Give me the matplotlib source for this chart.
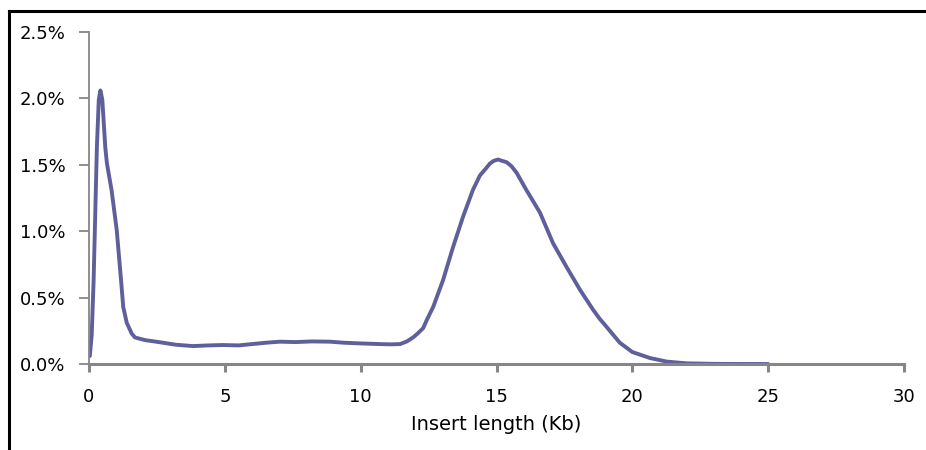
import matplotlib
matplotlib.use("Agg")
import matplotlib.pyplot as plt
from matplotlib.lines import Line2D
from matplotlib.ticker import FuncFormatter

# Insert length (Kb) and share of reads (%)
insert_kb = [0.03, 0.10, 0.17, 0.23, 0.29, 0.36, 0.42, 0.49, 0.60, 0.66, 0.83, 1.02,
             1.18, 1.26, 1.39, 1.57, 1.69, 2.06, 2.40, 2.73, 3.20, 3.83, 4.40, 4.93,
             5.50, 6.00, 6.50, 7.03, 7.60, 8.20, 8.87, 9.40, 10.00, 10.71, 11.10, 11.45,
             11.70, 11.93, 12.10, 12.30, 12.43, 12.67, 13.03, 13.40, 13.77, 14.13, 14.39,
             14.60, 14.76, 14.90, 15.06, 15.20, 15.37, 15.55, 15.74, 16.10, 16.60, 17.08,
             17.58, 18.07, 18.55, 18.80, 19.05, 19.54, 20.00, 20.65, 21.27, 22.00, 23.00,
             24.00, 25.00]
share_pct = [0.06, 0.22, 0.63, 1.13, 1.63, 1.99, 2.06, 1.99, 1.63, 1.51, 1.31, 1.01,
             0.63, 0.43, 0.31, 0.23, 0.20, 0.18, 0.17, 0.16, 0.145, 0.135, 0.14, 0.143,
             0.14, 0.15, 0.16, 0.168, 0.165, 0.17, 0.168, 0.16, 0.155, 0.15, 0.148, 0.15,
             0.17, 0.20, 0.23, 0.27, 0.33, 0.43, 0.63, 0.88, 1.11, 1.31, 1.42,
             1.47, 1.51, 1.53, 1.54, 1.53, 1.52, 1.49, 1.44, 1.31, 1.14, 0.91,
             0.73, 0.56, 0.41, 0.34, 0.28, 0.16, 0.09, 0.045, 0.018, 0.005, 0.001,
             0.0, 0.0]

x_ticks = [0, 5, 10, 15, 20, 25, 30]
y_ticks = [0.0, 0.5, 1.0, 1.5, 2.0, 2.5]
x_label = "Insert length (Kb)"

axis_grey = "#868686"
line_color = "#5F5F9B"

fig = plt.figure(figsize=(9.26, 4.5), dpi=100)
ax = fig.add_axes([89/926, 86/450, (904-89)/926, (364-32)/450])

ax.plot(insert_kb, share_pct, color=line_color, lw=2.8, solid_capstyle="round",
        solid_joinstyle="round")

ax.set_xlim(0, 30)
ax.set_ylim(0, 2.5)
ax.set_xticks(x_ticks)
ax.set_yticks(y_ticks)
ax.yaxis.set_major_formatter(FuncFormatter(lambda v, p: f"{v:.1f}%"))

for s in ["top", "right"]:
    ax.spines[s].set_visible(False)
ax.spines["left"].set_color(axis_grey)
ax.spines["left"].set_linewidth(1.3)
ax.spines["bottom"].set_color(axis_grey)
ax.spines["bottom"].set_linewidth(2.2)

ax.tick_params(axis="x", direction="out", length=6, width=2.2, color=axis_grey,
               pad=11, labelsize=13, labelcolor="black")
ax.tick_params(axis="y", direction="out", length=7, width=1.3, color=axis_grey,
               pad=10, labelsize=13, labelcolor="black")
ax.set_xlabel(x_label, fontsize=14, labelpad=7)

# outer frame (top and left edges)
fig.add_artist(Line2D([9/926, 925/926], [1-11/450, 1-11/450], transform=fig.transFigure,
                      color="black", lw=2.2))
fig.add_artist(Line2D([9/926, 9/926], [0, 1-11/450], transform=fig.transFigure,
                      color="black", lw=2.2))

fig.savefig("out.png", dpi=100)
